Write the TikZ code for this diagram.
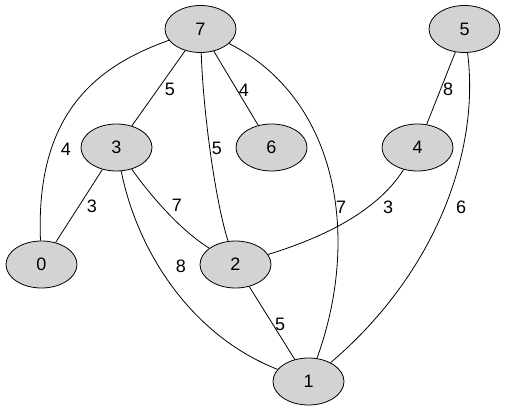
\documentclass[tikz,border=0pt]{standalone}
\usepackage{fontspec}
\setmainfont{Liberation Sans}
\usetikzlibrary{shapes.geometric}

\definecolor{vgray}{RGB}{211,211,211}
\tikzset{
	vertex/.style = {ellipse, draw, fill=vgray, line width=0.8pt, minimum width=71pt, minimum height=47pt, inner sep=0pt, font=\fontsize{18}{20}\selectfont},
	weight/.style = {inner sep=1pt, font=\fontsize{18}{20}\selectfont},
	link/.style = {line width=0.8pt}
}

\begin{document}
\begin{tikzpicture}[x=1pt, y=-1pt]
			\useasboundingbox (0,0) rectangle (505,411);
			
			\node[vertex] (n7) at (200.5,29) {7};
			\node[vertex] (n5) at (464.5,29) {5};
			
			\node[vertex] (n3) at (116.5,147.5) {3};
			\node[vertex] (n6) at (271.5,147.5) {6};
			\node[vertex] (n4) at (417.5,147.5) {4};
			
			\node[vertex] (n0) at (41.5,264.5) {0};
			\node[vertex] (n2) at (235.5,264.5) {2};
			
			\node[vertex] (n1) at (308.5,381.5) {1};
			
			% weights
			\node[weight] (w70) at (66,149) {4};
			\node[weight] (w73) at (170,89) {5};
			\node[weight] (w76) at (244,90) {4};
			\node[weight] (w72) at (217,148) {5};
			\node[weight] (w71) at (341,207) {7};
			\node[weight] (w54) at (448,89) {8};
			\node[weight] (w51) at (461,207) {6};
			\node[weight] (w30) at (92,206) {3};
			\node[weight] (w32) at (177,205) {7};
			\node[weight] (w31) at (181,266) {8};
			\node[weight] (w42) at (388,207) {3};
			\node[weight] (w21) at (280,324) {5};
			
			\draw[link] (n7) .. controls (100,65) and (35,110) .. (n0);
			\draw[link] (n7) -- (n3);
			\draw[link] (n7) -- (n6);
			\draw[link] (n7) .. controls (203,110) and (215,200) .. (n2);
			\draw[link] (n7) .. controls (340,100) and (360,240) .. (n1);
			\draw[link] (n5) -- (n4);
			\draw[link] (n5) .. controls (480,150) and (437,272) .. (n1);
			\draw[link] (n3) -- (n0);
			\draw[link] (n3) .. controls (150,195) and (180,230) .. (n2);
			\draw[link] (n3) .. controls (137,250) and (190,335) .. (n1);
			\draw[link] (n4) .. controls (375,215) and (315,240) .. (n2);
			\draw[link] (n2) -- (n1);
		\end{tikzpicture}
\end{document}
